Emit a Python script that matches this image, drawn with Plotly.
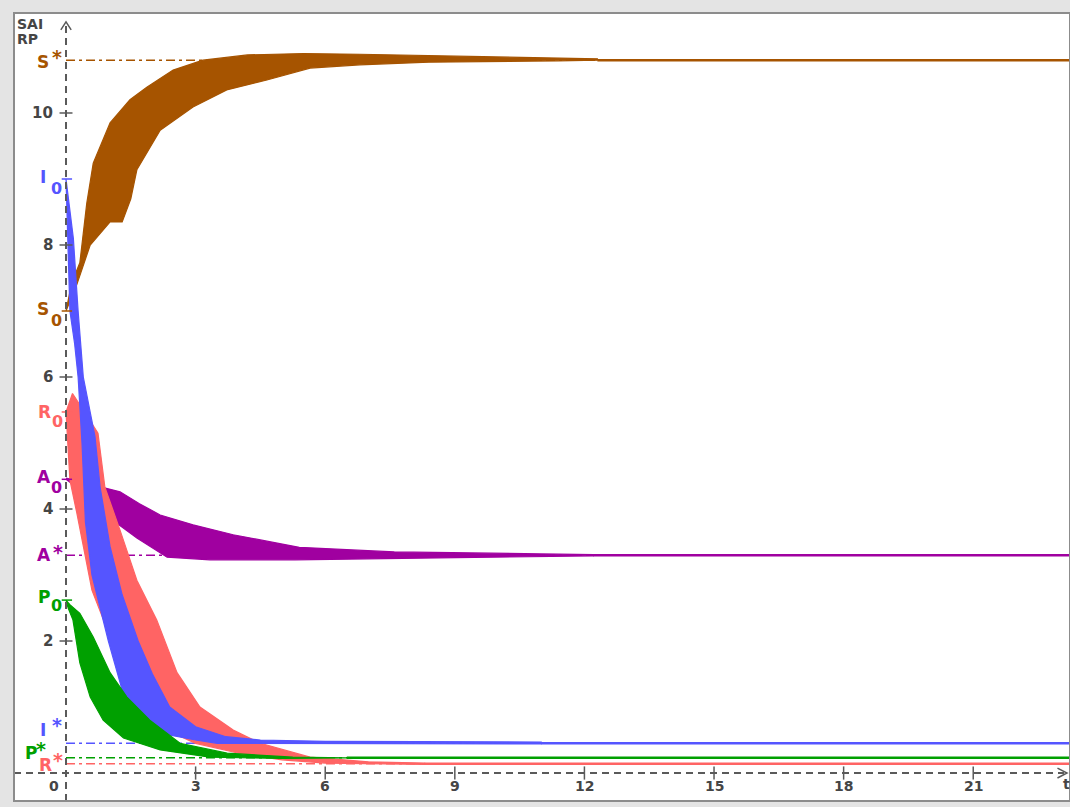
import plotly.graph_objects as go

# ---------------- data ----------------
# envelopes (upper / lower) of the bundles of trajectories
S_up_t = [0, 0.13, 0.32, 0.48, 0.63, 1.02, 1.48, 1.87, 2.48, 3.17, 4.2, 5.5, 6.8, 9.0, 12.3]
S_up_v = [7.0, 7.42, 7.73, 8.63, 9.24, 9.85, 10.2, 10.39, 10.65, 10.8, 10.88, 10.9, 10.89, 10.86, 10.82]
S_lo_t = [0, 0.05, 0.25, 0.56, 1.02, 1.3, 1.5, 1.64, 2.18, 2.94, 3.72, 4.65, 5.65, 6.8, 8.4, 11.4, 12.3]
S_lo_v = [7.0, 7.1, 7.4, 8.0, 8.35, 8.35, 8.7, 9.14, 9.74, 10.09, 10.35, 10.5, 10.68, 10.73, 10.77, 10.79, 10.8]

A_up_t = [0, 0.3, 0.86, 1.25, 1.7, 2.18, 2.94, 3.87, 5.4, 7.6, 11.0, 12.2]
A_up_v = [4.47, 4.42, 4.32, 4.26, 4.08, 3.91, 3.76, 3.61, 3.42, 3.35, 3.32, 3.31]
A_lo_t = [0, 0.32, 1.02, 1.64, 2.34, 3.33, 5.3, 8.4, 11.0, 12.2]
A_lo_v = [4.45, 4.29, 3.86, 3.56, 3.27, 3.23, 3.23, 3.26, 3.28, 3.29]

R_up_t = [0, 0.15, 0.4, 0.74, 0.9, 1.25, 1.64, 2.1, 2.57, 3.1, 3.87, 4.5, 5.65, 7.0, 8.3]
R_up_v = [5.47, 5.75, 5.5, 5.15, 4.33, 3.68, 2.92, 2.32, 1.52, 1.0, 0.65, 0.45, 0.24, 0.17, 0.15]
R_lo_t = [0, 0.09, 0.25, 0.48, 0.6, 1.0, 1.5, 2.0, 2.5, 3.0, 4.0, 5.0, 6.0, 8.3]
R_lo_v = [5.47, 4.44, 3.94, 3.18, 2.77, 2.1, 1.35, 0.9, 0.6, 0.45, 0.3, 0.2, 0.15, 0.13]

I_up_t = [0, 0.17, 0.28, 0.4, 0.67, 0.79, 1.02, 1.3, 1.67, 2.0, 2.4, 3.0, 3.7, 4.5, 6.0, 11.0]
I_up_v = [9.0, 8.1, 7.0, 6.0, 5.1, 4.33, 3.43, 2.7, 2.0, 1.5, 1.0, 0.7, 0.55, 0.5, 0.48, 0.47]
I_lo_t = [0, 0.03, 0.09, 0.2, 0.28, 0.37, 0.45, 0.6, 0.98, 1.41, 1.8, 2.2, 3.0, 3.5, 11.0]
I_lo_v = [9.0, 8.6, 7.0, 6.5, 6.0, 5.0, 3.8, 3.0, 2.0, 1.0, 0.75, 0.6, 0.5, 0.45, 0.44]

P_up_t = [0, 0.09, 0.32, 0.63, 1.02, 1.41, 1.94, 2.64, 3.73, 5.25, 6.5]
P_up_v = [2.62, 2.55, 2.42, 2.06, 1.52, 1.15, 0.8, 0.45, 0.3, 0.24, 0.23]
P_lo_t = [0, 0.05, 0.16, 0.32, 0.56, 0.86, 1.33, 2.18, 3.33, 5.0, 6.5]
P_lo_v = [2.62, 2.5, 2.32, 1.67, 1.15, 0.8, 0.53, 0.35, 0.24, 0.22, 0.23]

# initial values and equilibria
names = ["S", "A", "R", "I", "P"]
init_vals = {"S": 7.0, "A": 4.45, "R": 5.47, "I": 9.0, "P": 2.62}
star_vals = {"S": 10.8, "A": 3.3, "R": 0.14, "I": 0.45, "P": 0.23}
conv_t = {"S": 12.3, "A": 12.2, "R": 8.3, "I": 11.0, "P": 6.5}

x_ticks = [3, 6, 9, 12, 15, 18, 21]
y_ticks = [2, 4, 6, 8, 10]

# ---------------- style ----------------
colors = {"S": "#A65400", "A": "#A000A0", "R": "#FF6464", "I": "#5555FF", "P": "#00A000"}
AX = "#5a5a5a"
TXT = "#454545"
FONT = "DejaVu Sans"
X_RANGE = [-1.204, 23.24]
Y_RANGE = [-0.424, 11.515]
T_END = X_RANGE[1]

env = {
    "S": (S_up_t, S_up_v, S_lo_t, S_lo_v),
    "A": (A_up_t, A_up_v, A_lo_t, A_lo_v),
    "R": (R_up_t, R_up_v, R_lo_t, R_lo_v),
    "I": (I_up_t, I_up_v, I_lo_t, I_lo_v),
    "P": (P_up_t, P_up_v, P_lo_t, P_lo_v),
}

fig = go.Figure()

# equilibrium dash-dot lines
for n in names:
    fig.add_trace(go.Scatter(x=[0, T_END], y=[star_vals[n]] * 2, mode="lines",
                             line=dict(color=colors[n], width=1.5, dash="9px,4px,3px,4px"),
                             hoverinfo="skip", showlegend=False))

# bundles
for n in names:
    ut, uv, lt, lv = env[n]
    fig.add_trace(go.Scatter(x=ut + lt[::-1], y=uv + lv[::-1], mode="lines",
                             fill="toself", fillcolor=colors[n],
                             line=dict(color=colors[n], width=1.2),
                             hoverinfo="skip", showlegend=False))
    fig.add_trace(go.Scatter(x=[conv_t[n], T_END], y=[star_vals[n]] * 2, mode="lines",
                             line=dict(color=colors[n], width=2.5),
                             hoverinfo="skip", showlegend=False))

# coloured marks of initial values on the axis
for n in names:
    fig.add_trace(go.Scatter(x=[-0.1, 0.14], y=[init_vals[n]] * 2, mode="lines",
                             line=dict(color=colors[n], width=1.5),
                             hoverinfo="skip", showlegend=False))

shapes = []
# dashed axes
shapes.append(dict(type="line", xref="x", yref="y", x0=0, x1=0, y0=Y_RANGE[0], y1=11.37,
                   line=dict(color=AX, width=2, dash="7px,5px")))
shapes.append(dict(type="line", xref="x", yref="y", x0=X_RANGE[0], x1=23.1, y0=0, y1=0,
                   line=dict(color=AX, width=2, dash="7px,5px")))
# arrow heads
shapes.append(dict(type="path", xref="x", yref="y",
                   path="M -0.12 11.26 L 0 11.38 L 0.12 11.26", line=dict(color=AX, width=1.5)))
shapes.append(dict(type="path", xref="x", yref="y",
                   path="M 22.95 0.075 L 23.17 0 L 22.95 -0.075", line=dict(color=AX, width=1.5)))
# tick crosses
for v in y_ticks:
    shapes.append(dict(type="line", xref="x", yref="y", x0=-0.15, x1=0.15, y0=v, y1=v,
                       line=dict(color=AX, width=1.5)))
for t in x_ticks:
    shapes.append(dict(type="line", xref="x", yref="y", x0=t, x1=t, y0=-0.1, y1=0.1,
                       line=dict(color=AX, width=1.5)))
# frame
shapes.append(dict(type="rect", xref="paper", yref="paper", x0=0, x1=1, y0=0, y1=1,
                   line=dict(color="#8c8c8c", width=2)))

ann = []
for v in y_ticks:
    ann.append(dict(x=0, y=v, xref="x", yref="y", text=f"<b>{v}</b>", showarrow=False,
                    xanchor="right", xshift=-11, font=dict(family=FONT, size=15, color=TXT)))
for t in x_ticks:
    ann.append(dict(x=t, y=0, xref="x", yref="y", text=f"<b>{t}</b>", showarrow=False,
                    yshift=-13, font=dict(family=FONT, size=14, color=TXT)))
ann.append(dict(x=0, y=0, xref="x", yref="y", text="<b>0</b>", showarrow=False,
                xshift=-12, yshift=-13, font=dict(family=FONT, size=14, color=TXT)))
ann.append(dict(x=23.17, y=0, xref="x", yref="y", text="<b>t</b>", showarrow=False,
                yshift=-11, font=dict(family=FONT, size=14, color=TXT)))
ann.append(dict(x=0, y=1, xref="paper", yref="paper", text="<b>SAI</b>", showarrow=False,
                xanchor="left", yanchor="top", xshift=1, yshift=-1,
                font=dict(family=FONT, size=14, color=TXT)))
ann.append(dict(x=0, y=1, xref="paper", yref="paper", text="<b>RP</b>", showarrow=False,
                xanchor="left", yanchor="top", xshift=1, yshift=-16,
                font=dict(family=FONT, size=14, color=TXT)))

# variable labels: (name, value, letter, mark, letter dx, letter dy, mark dx, mark dy)
labels = [
    ("S", star_vals["S"], "S", "*", -23, -2, -9, 6),
    ("I", init_vals["I"], "I", "0", -23, 2, -10, -9),
    ("S", init_vals["S"], "S", "0", -23, 2, -10, -9),
    ("R", init_vals["R"], "R", "0", -22, 0, -9, -10),
    ("A", init_vals["A"], "A", "0", -22, 2, -10, -8),
    ("A", star_vals["A"], "A", "*", -22, 0, -8, 6),
    ("P", init_vals["P"], "P", "0", -22, 3, -10, -5),
    ("I", star_vals["I"], "I", "*", -23, 13, -9, 21),
    ("P", star_vals["P"], "P", "*", -35, 5, -25, 12),
    ("R", star_vals["R"], "R", "*", -21, -1, -8, 7),
]
for n, v, letter, mark, ldx, ldy, mdx, mdy in labels:
    ann.append(dict(x=0, y=v, xref="x", yref="y", text=f"<b>{letter}</b>", showarrow=False,
                    xshift=ldx, yshift=ldy, font=dict(family=FONT, size=17, color=colors[n])))
    msize = 19 if mark == "*" else 16
    ann.append(dict(x=0, y=v, xref="x", yref="y", text=f"<b>{mark}</b>", showarrow=False,
                    xshift=mdx, yshift=mdy - (3 if mark == "*" else 0),
                    font=dict(family=FONT, size=msize, color=colors[n])))

fig.update_layout(
    width=1070, height=807,
    margin=dict(l=14, r=0, t=13, b=6),
    paper_bgcolor="#e4e4e4", plot_bgcolor="white",
    xaxis=dict(range=X_RANGE, visible=False, fixedrange=True),
    yaxis=dict(range=Y_RANGE, visible=False, fixedrange=True),
    shapes=shapes, annotations=ann, showlegend=False,
)

fig.write_html("out.html", config={"displayModeBar": False},
               post_script="document.body.style.margin='0px';")
